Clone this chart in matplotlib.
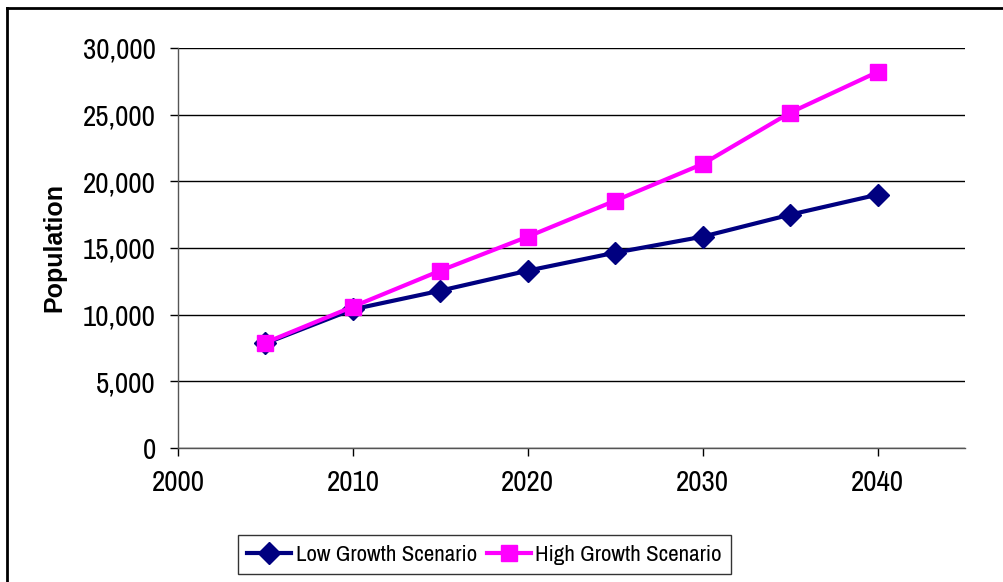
import matplotlib
matplotlib.use("Agg")
import matplotlib.pyplot as plt
from matplotlib.ticker import FuncFormatter
from matplotlib.lines import Line2D

years = [2005, 2010, 2015, 2020, 2025, 2030, 2035, 2040]
low_growth = [7850, 10400, 11800, 13300, 14650, 15850, 17500, 19000]
high_growth = [7900, 10600, 13300, 15850, 18550, 21300, 25150, 28200]
x_ticks = [2000, 2010, 2020, 2030, 2040]
y_ticks = [0, 5000, 10000, 15000, 20000, 25000, 30000]

plt.rcParams['font.family'] = ['Archivo Narrow', 'Liberation Sans', 'DejaVu Sans']

W, H = 1004, 582
fig = plt.figure(figsize=(W / 100, H / 100), dpi=100)
ax = fig.add_axes([178 / W, (H - 448) / H, (965 - 178) / W, 400 / H])

navy = '#000080'
magenta = '#FF00FF'
ax.plot(years, low_growth, color=navy, lw=3, marker='D', ms=11, mfc=navy, mec=navy,
        label='Low Growth Scenario', zorder=3)
ax.plot(years, high_growth, color=magenta, lw=3, marker='s', ms=12, mfc=magenta, mec=magenta,
        label='High Growth Scenario', zorder=4)

ax.set_xlim(2000, 2045)
ax.set_ylim(0, 30000)
ax.set_xticks(x_ticks)
ax.set_yticks(y_ticks)
ax.yaxis.set_major_formatter(FuncFormatter(lambda v, p: f"{int(v):,}"))
ax.tick_params(axis='both', labelsize=21, length=6, width=1, color='black', direction='out')
ax.tick_params(axis='x', pad=9)
ax.tick_params(axis='y', pad=10)
ax.grid(axis='y', color='black', lw=1)
ax.set_axisbelow(True)
for s in ['top', 'right']:
    ax.spines[s].set_visible(False)
for s in ['left', 'bottom']:
    ax.spines[s].set_color('#555555')
    ax.spines[s].set_linewidth(1)

ax.set_ylabel('Population', fontsize=18, fontweight='bold', labelpad=12,
              family=['Liberation Sans', 'DejaVu Sans'])

handles = [Line2D([0], [0], color=navy, lw=3, marker='D', ms=11),
           Line2D([0], [0], color=magenta, lw=3, marker='s', ms=12)]
leg = fig.legend(handles, ['Low Growth Scenario', 'High Growth Scenario'],
                 loc='center', bbox_to_anchor=(484.5 / W, (H - 554.5) / H),
                 ncol=2, fontsize=16.5, frameon=True, fancybox=False,
                 edgecolor='black', handlelength=1.9, handletextpad=0.2,
                 columnspacing=0.45, borderpad=0.4)
leg.get_frame().set_linewidth(1)

# outer chart border (left and top visible)
fig.add_artist(Line2D([7.5 / W, 7.5 / W], [0, (H - 7.5) / H], color='black', lw=2,
                      transform=fig.transFigure))
fig.add_artist(Line2D([7.5 / W, 1], [(H - 7.5) / H, (H - 7.5) / H], color='black', lw=2,
                      transform=fig.transFigure))

fig.savefig('out.png', dpi=100)
